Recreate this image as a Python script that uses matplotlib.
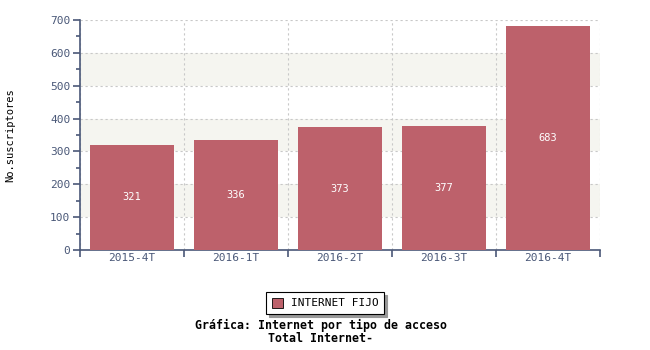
import matplotlib
matplotlib.use("Agg")
import matplotlib.pyplot as plt
import numpy as np

# data
periodos = ["2015-4T", "2016-1T", "2016-2T", "2016-3T", "2016-4T"]
suscriptores = [321, 336, 373, 377, 683]
serie = "INTERNET FIJO"

bar_color = "#bd616b"
axis_color = "#4a5878"
mono = "DejaVu Sans Mono"

fig = plt.figure(figsize=(6.5, 3.5), dpi=100)
ax = fig.add_axes([80 / 650, 1 - 250 / 350, 520 / 650, 230 / 350])

x = np.arange(len(periodos))
bars = ax.bar(x, suscriptores, width=0.81, color=bar_color, zorder=3, label=serie)

for xi, v in zip(x, suscriptores):
    ax.text(xi, v / 2, str(v), ha="center", va="center", color="white",
            fontsize=7.5, family=mono, zorder=4)

ax.set_xlim(-0.5, len(periodos) - 0.5)
ax.set_ylim(0, 700)

# alternating bands
for lo in (100, 300, 500):
    ax.axhspan(lo, lo + 100, color="#f5f5f0", zorder=0, lw=0)

# grid
ax.set_yticks(np.arange(0, 701, 100))
ax.set_yticks(np.arange(50, 700, 100), minor=True)
ax.set_xticks(np.arange(-0.5, len(periodos), 1))
ax.set_xticklabels([])
ax.set_xticks(x, minor=True)
ax.set_xticklabels(periodos, minor=True)
ax.grid(True, which="major", color="#c8c8c8", linestyle=(0, (2, 2.5)), linewidth=0.8, zorder=1)

for s in ("top", "right"):
    ax.spines[s].set_visible(False)
for s in ("left", "bottom"):
    ax.spines[s].set_color(axis_color)
    ax.spines[s].set_linewidth(1.2)

ax.tick_params(axis="both", which="major", length=5, color=axis_color, width=1.2,
               labelcolor=axis_color, labelsize=8)
ax.tick_params(axis="y", which="minor", length=3, color=axis_color, width=1.2)
ax.tick_params(axis="x", which="minor", length=0, labelcolor=axis_color, labelsize=8, pad=2)
for lab in ax.get_xticklabels(minor=True) + ax.get_yticklabels():
    lab.set_family(mono)
ax.tick_params(axis="y", pad=2)

fig.text(10 / 650, 1 - 135 / 350, "No.suscriptores", rotation=90, ha="center", va="center",
         fontsize=7.5, family=mono)

leg = fig.legend(handles=[bars], labels=[serie], loc="center", bbox_to_anchor=(325 / 650, 1 - 303 / 350),
                 frameon=True, fancybox=False, shadow={"color": "#999999", "alpha": 1},
                 prop={"family": mono, "size": 8}, handlelength=1, handleheight=1,
                 borderpad=0.5, handletextpad=0.7, borderaxespad=0)
leg.get_frame().set_edgecolor("black")
leg.get_frame().set_linewidth(0.8)
leg.legend_handles[0].set_edgecolor("black")
leg.legend_handles[0].set_linewidth(0.6)

fig.text(321 / 650, 1 - 325 / 350, "Gráfica: Internet por tipo de acceso", ha="center", va="center",
         fontsize=8.4, family=mono, weight="bold")
fig.text(321 / 650, 1 - 338 / 350, "Total Internet-", ha="center", va="center",
         fontsize=8.4, family=mono, weight="bold")

fig.savefig("out.png", dpi=100)
